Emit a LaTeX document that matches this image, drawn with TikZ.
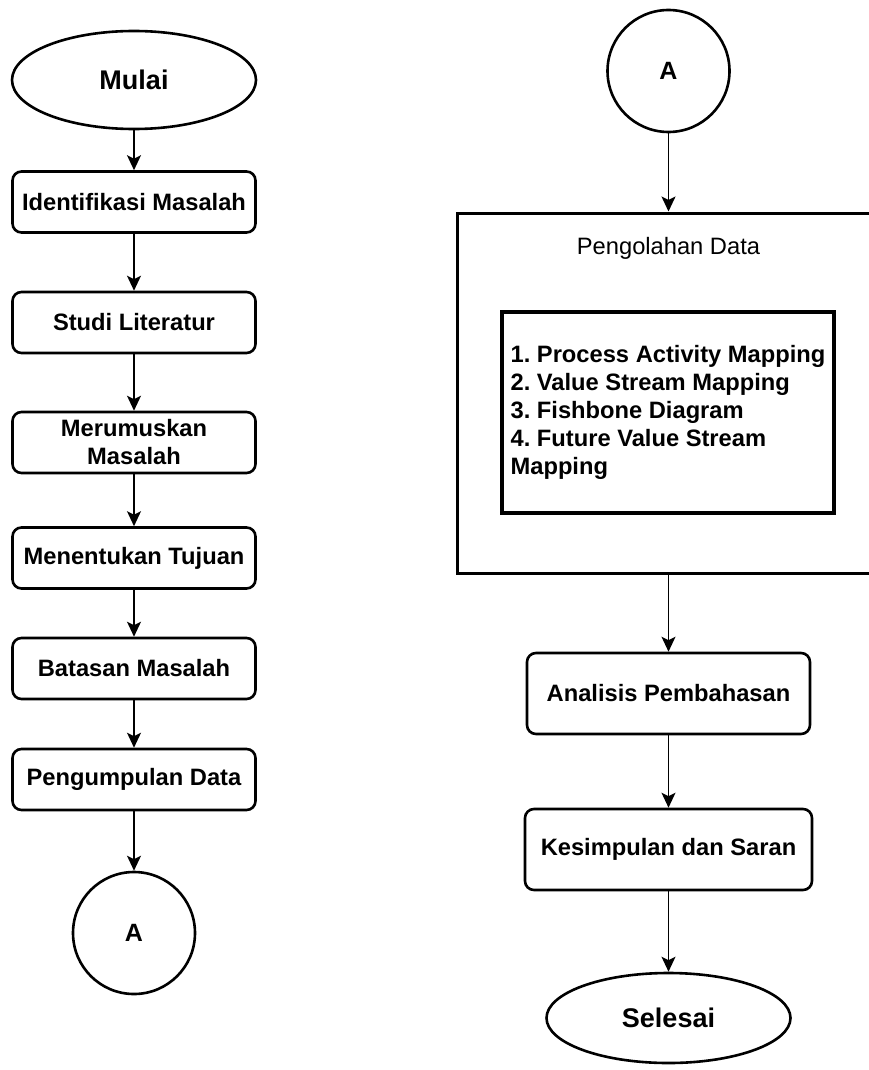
\documentclass[tikz,border=0pt]{standalone}
\usepackage{fontspec}
\setmainfont{Liberation Sans}
\usetikzlibrary{shapes.geometric,arrows.meta}
\frenchspacing

\begin{document}
\begin{tikzpicture}[x=1pt,y=-1pt,
  txt/.style={font=\fontsize{23.7}{28}\selectfont\bfseries},
  stepbox/.style={draw, line width=2.6pt, rounded corners=9pt, minimum width=243pt,
    minimum height=61pt, align=center, txt, inner sep=2pt},
  widebox/.style={stepbox, minimum width=283pt, minimum height=81pt},
  term/.style={draw, ellipse, line width=2.6pt, font=\fontsize{27}{32}\selectfont\bfseries,
    minimum width=244pt, minimum height=98pt, inner sep=0pt},
  conn/.style={draw, circle, line width=2.6pt, minimum size=122pt, inner sep=0pt,
    font=\fontsize{25}{30}\selectfont\bfseries},
  arr/.style={-{Stealth[length=15pt,width=14pt,inset=3.5pt]}, line width=1.8pt}
]
\useasboundingbox (0,0) rectangle (869,1070);
\clip (0,0) rectangle (869,1070);

% left column
\node[term] (mulai) at (134,80) {Mulai};
\node[stepbox] (ident) at (134,202) {Identifikasi Masalah};
\node[stepbox] (studi) at (134,322.5) {Studi Literatur};
\node[stepbox] (rumus) at (134,442.5) {Merumuskan\\Masalah};
\node[stepbox] (tujuan) at (134,558) {Menentukan Tujuan};
\node[stepbox] (batas) at (134,668.5) {Batasan Masalah};
\node[stepbox] (kumpul) at (134,779.5) {Pengumpulan Data};
\node[conn] (aL) at (134,933) {A};

\draw[arr] (mulai) -- (ident);
\draw[arr] (ident) -- (studi);
\draw[arr] (studi) -- (rumus);
\draw[arr] (rumus) -- (tujuan);
\draw[arr] (tujuan) -- (batas);
\draw[arr] (batas) -- (kumpul);
\draw[arr] (kumpul) -- (aL);

% right column
\node[conn] (aR) at (668.5,71) {A};
\node[draw, line width=3pt, minimum width=423pt, minimum height=360pt] (proc) at (668.5,393) {};
\node[font=\fontsize{23.7}{28}\selectfont] (proctitle) at (668.5,248) {Pengolahan Data};
\node[draw, line width=3.5pt, minimum width=332pt, minimum height=201pt, inner sep=6pt,
  align=left, txt] (list) at (668,412.5)
  {1. Process Activity Mapping\\2. Value Stream Mapping\\3. Fishbone Diagram\\4. Future Value Stream\\Mapping};
\node[widebox] (analisis) at (668.5,693.5) {Analisis Pembahasan};
\node[widebox, minimum width=287pt] (simpul) at (668.5,849.5) {Kesimpulan dan Saran};
\node[term, minimum height=90pt] (selesai) at (668.5,1018) {Selesai};

\draw[arr] (aR) -- (proc.north);
\draw[arr] (proc.south) -- (analisis);
\draw[arr] (analisis) -- (simpul);
\draw[arr] (simpul) -- (selesai);
\end{tikzpicture}
\end{document}
